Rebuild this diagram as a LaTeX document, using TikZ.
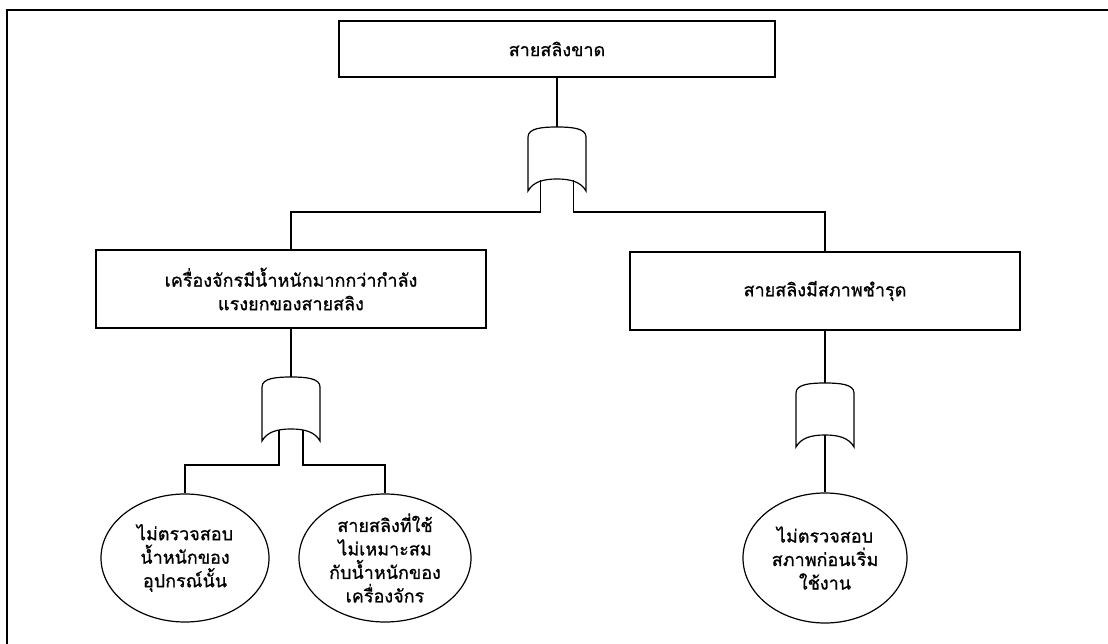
\documentclass[tikz,border=0pt]{standalone}
\usepackage{fontspec}
\newfontfamily\thaifont[Script=Thai,FakeBold=0.8]{Loma}
\usetikzlibrary{positioning,shapes.geometric}

\tikzset{
  orgate/.pic={
    \draw[gateline] (-29,0) .. controls (-29,-9) and (-14,-10) .. (0,-10)
      .. controls (14,-10) and (29,-9) .. (29,0) -- (29,54)
      .. controls (24,45) and (14,42) .. (0,42)
      .. controls (-14,42) and (-24,45) .. (-29,54) -- cycle;
    \coordinate (-in) at (0,-10);
    \coordinate (-out) at (0,42);
  }
}

\begin{document}
\begin{tikzpicture}[
  x=1pt, y=-1pt,
  every node/.style={font=\thaifont\fontsize{18}{23.5}\selectfont},
  event/.style={draw, line width=1.3pt, rectangle, align=center, inner sep=0pt},
  basic/.style={draw, line width=1.2pt, ellipse, align=center, inner sep=0pt},
  wire/.style={line width=1.2pt},
  gateline/.style={line width=1.2pt, fill=white}
]
\useasboundingbox (0,0) rectangle (1108,644);
\clip (0,0) rectangle (1108,644);
\fill[white] (0,0) rectangle (1108,644);

% frame
\draw[line width=1.8pt] (1200,10) -| (7,700);

% events
\node[event, minimum width=436, minimum height=56] (top) at (557,49) {สายสลิงขาด};
\node[event, minimum width=390, minimum height=78] (lb) at (291,289)
  {เครื่องจักรมีน้ำหนักมากกว่ากำลัง\\แรงยกของสายสลิง};
\node[event, minimum width=390, minimum height=78] (rb) at (825,291)
  {สายสลิงมีสภาพชำรุด};

% basic events
\node[basic, minimum width=168, minimum height=128] (e1) at (185,558)
  {ไม่ตรวจสอบ\\น้ำหนักของ\\อุปกรณ์นั้น};
\node[basic, minimum width=172, minimum height=128] (e2) at (385,558)
  {สายสลิงที่ใช้\\ไม่เหมาะสม\\กับน้ำหนักของ\\เครื่องจักร};
\node[basic, minimum width=164, minimum height=130] (e3) at (825,558)
  {ไม่ตรวจสอบ\\สภาพก่อนเริ่ม\\ใช้งาน};

% gates
\pic (g0) at (557,137) {orgate};
\pic (g1) at (291,387) {orgate};
\pic (g2) at (825,393) {orgate};

% connectors
\draw[wire] (top.south) -- (g0-in);
\draw[wire] (g0-out) ++(-16.5,1) -- ++(0,32) -| (lb.north);
\draw[wire] (g0-out) ++(16.5,1) -- ++(0,32) -| (rb.north);

\draw[wire] (lb.south) -- (g1-in);
\draw[wire] (g1-out) ++(-12,0.5) -- ++(0,35.5) -| (e1.north);
\draw[wire] (g1-out) ++(12,0.5) -- ++(0,35.5) -| (e2.north);

\draw[wire] (rb.south) -- (g2-in);
\draw[wire] (g2-out) -- (e3.north);
\end{tikzpicture}
\end{document}
